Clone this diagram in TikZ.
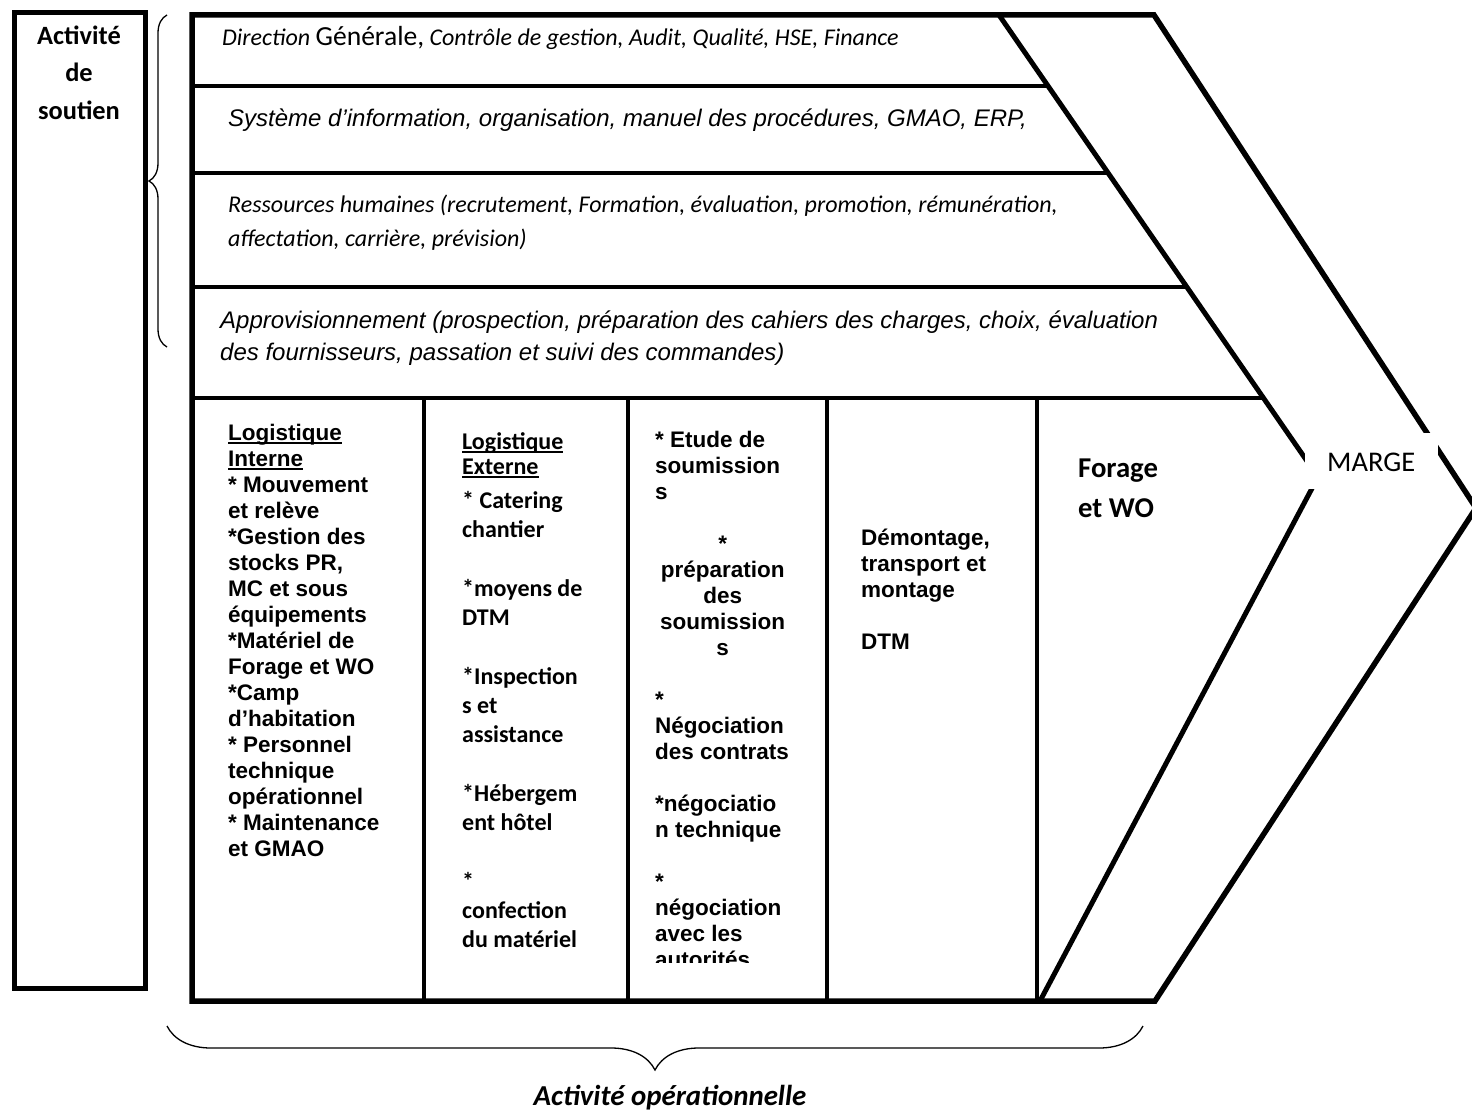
\documentclass[tikz,border=0pt]{standalone}
\usepackage{fontspec}
\setmainfont{Liberation Sans}
\newfontfamily\calibri{Carlito}
\usetikzlibrary{decorations.pathreplacing}

\newcommand{\ulword}[1]{\setbox0=\hbox{#1}\rlap{\vrule width\wd0 height -2.2pt depth 4.2pt}\box0}
\newcommand{\centred}[1]{\makebox[135pt]{#1}}

\begin{document}
\begin{tikzpicture}[
    x=1pt, y=-1pt,
    outline/.style={line width=5.5pt, line join=miter},
    divider/.style={line width=3.5pt},
    txt/.style={anchor=north west, inner sep=0pt, align=left},
    rowarial/.style={txt, font=\itshape\fontsize{24}{32}\selectfont},
    rowcalibri/.style={txt, font=\calibri\itshape\fontsize{24}{34}\selectfont},
    colarial/.style={txt, font=\bfseries\fontsize{22.5}{26}\selectfont},
    colcalibri/.style={txt, font=\calibri\bfseries\fontsize{24}{29.3}\selectfont},
    curly/.style={decorate, decoration={brace, amplitude=#1}, line width=1.3pt}
]
    \useasboundingbox (0,0) rectangle (1472,1110);

    % Support activity box
    \draw[line width=5pt] (14.5,12.5) rectangle (145.5,988);
    \node[anchor=north, inner sep=0pt, align=center, font=\calibri\bfseries\fontsize{26.4}{37.5}\selectfont] (soutien) at (79,18) {\strut Activité\\de\\soutien};

    % Value chain outline
    \coordinate (tl) at (192,15);
    \coordinate (tr) at (1154,15);
    \coordinate (apex) at (1476,508);
    \coordinate (br) at (1155,1001);
    \coordinate (bl) at (192,1001);
    \coordinate (itop) at (999,15);
    \coordinate (ivert) at (1318,477);
    \coordinate (ibot) at (1040,1001);

    \draw[line width=5pt, line join=miter] (itop) -- (ivert) -- (ibot);
    \draw[divider] (192,86) -- (1048,86);
    \draw[divider] (192,173) -- (1108,173);
    \draw[divider] (192,287) -- (1187,287);
    \draw[divider] (192,398) -- (1264,398);
    \foreach \x in {424,628,827,1037}
        \draw[divider, line width=4pt] (\x,398) -- (\x,1001);
    \draw[outline] (tl) -- (tr) -- (apex) -- (br) -- (bl) -- cycle;

    % Margin label
    \fill[white] (1305,433) rectangle (1438,489);
    \node[anchor=base west, inner sep=0pt, font=\calibri\fontsize{28.5}{34}\selectfont] (marge) at (1327,471) {MARGE};

    % Support activities
    \node[txt, font=\calibri\itshape\fontsize{24}{34}\selectfont] (direction) at (222,21.2) {\strut Direction {\upshape\fontsize{27.6}{34}\selectfont Générale,} Contrôle de gestion, Audit, Qualité, HSE, Finance};
    \node[rowarial] (sysinfo) at (228,104.1) {\strut Système d’information, organisation, manuel des procédures, GMAO, ERP,};
    \node[rowcalibri] (rh) at (228,188.2) {\strut Ressources humaines (recrutement, Formation, évaluation, promotion, rémunération,\\affectation, carrière, prévision)};
    \node[rowarial] (appro) at (220,305.6) {\strut Approvisionnement (prospection, préparation des cahiers des charges, choix, évaluation\\des fournisseurs, passation et suivi des commandes)};

    % Primary activities
    \node[colarial] (loginterne) at (228,421.8) {\strut\ulword{Logistique}\\\ulword{Interne}\\* Mouvement\\et relève\\*Gestion des\\stocks PR,\\MC et sous\\équipements\\*Matériel de\\Forage et WO\\*Camp\\d’habitation\\* Personnel\\technique\\opérationnel\\* Maintenance\\et GMAO};
    \node[colcalibri] (logexterne) at (462,428.5) {\strut\ulword{Logistique}\\[-4.3pt]\ulword{Externe}\\[4.7pt]* Catering\\chantier\\[29.3pt]*moyens de\\DTM\\[29.3pt]*Inspection\\s et\\assistance\\[29.3pt]*Hébergem\\ent hôtel\\[29.3pt]*\\confection\\du matériel};
    \begin{scope}
        \clip (628,398) rectangle (827,962);
        \node[colarial] (soumission) at (655,428.8) {\strut * Etude de\\soumission\\s\\[26pt]\centred{*}\\\centred{préparation}\\\centred{des}\\\centred{soumission}\\\centred{s}\\[26pt]*\\Négociation\\des contrats\\[26pt]*négociatio\\n technique\\[26pt]*\\négociation\\avec les\\autorités};
    \end{scope}
    \node[colarial] (dtm) at (861,526.8) {\strut Démontage,\\transport et\\montage\\[26pt]DTM};
    \node[txt, font=\calibri\bfseries\fontsize{28.7}{40.5}\selectfont] (forage) at (1078,448.6) {\strut Forage\\et WO};

    % Braces
    \coordinate (soutientop) at (167,15);
    \coordinate (soutienbot) at (167,347);
    \draw[curly=18] (soutienbot) -- (soutientop);
    \coordinate (opleft) at (167,1026);
    \coordinate (opright) at (1143,1026);
    \draw[curly=44] (opright) -- (opleft);
    \node[anchor=base, inner sep=0pt, font=\calibri\bfseries\itshape\fontsize{28.9}{34}\selectfont] (operation) at (670,1105) {Activité opérationnelle};
\end{tikzpicture}
\end{document}
